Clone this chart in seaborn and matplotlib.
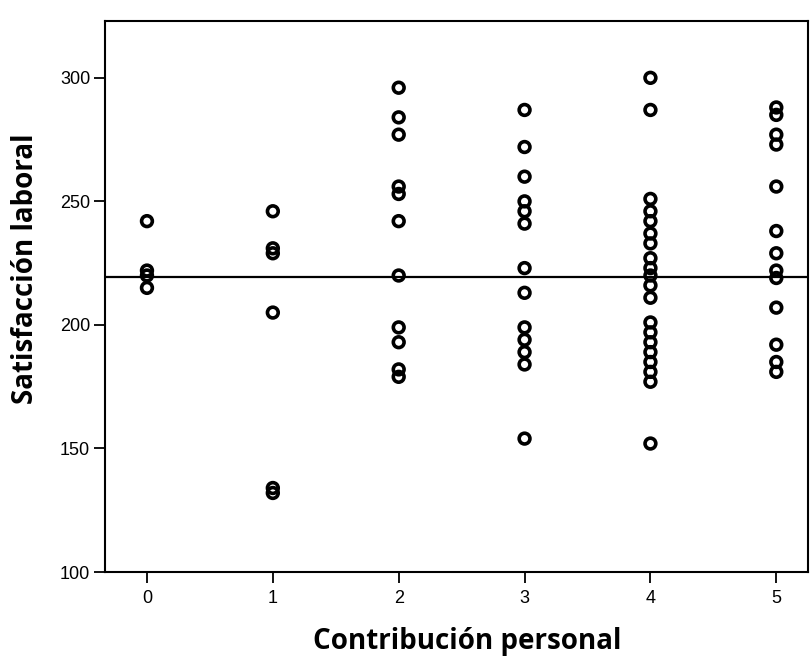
import numpy as np
import pandas as pd
import matplotlib
matplotlib.use("Agg")
import matplotlib.pyplot as plt
import seaborn as sns

# Data
contrib_0 = [242, 222, 220, 215]
contrib_1 = [246, 231, 229, 205, 134, 132]
contrib_2 = [296, 284, 277, 256, 253, 242, 220, 199, 193, 182, 179]
contrib_3 = [287, 272, 260, 250, 246, 241, 223, 213, 199, 194, 189, 184, 154]
contrib_4 = [300, 287, 251, 246, 242, 237, 233, 227, 223, 220, 216, 211,
             201, 197, 193, 189, 185, 181, 177, 152]
contrib_5 = [288, 285, 277, 273, 256, 238, 229, 222, 219, 207, 192, 185, 181]
groups = [contrib_0, contrib_1, contrib_2, contrib_3, contrib_4, contrib_5]
reference_line = 219.5

x_ticks = [0, 1, 2, 3, 4, 5]
y_ticks = [100, 150, 200, 250, 300]

rows = []
for k, vals in zip(x_ticks, groups):
    for v in vals:
        rows.append({"Contribución personal": k, "Satisfacción laboral": v})
df = pd.DataFrame(rows)

sns.set_style("white")
plt.rcParams["font.family"] = ["Liberation Sans Narrow", "Liberation Sans", "DejaVu Sans"]
plt.rcParams["text.color"] = "black"
plt.rcParams["axes.labelcolor"] = "black"

fig = plt.figure(figsize=(8.11, 6.56), dpi=100)
ax = fig.add_axes([0.13, 0.128, 0.866, 0.84])

sns.scatterplot(data=df, x="Contribución personal", y="Satisfacción laboral",
                ax=ax, marker="o", s=60, facecolor="none",
                edgecolor="black", linewidth=2.6)
ax.axhline(reference_line, color="black", linewidth=1.6)

ax.set_xlim(-0.33, 5.25)
ax.set_ylim(100, 323)
ax.set_xticks(x_ticks)
ax.set_yticks(y_ticks)
for sp in ax.spines.values():
    sp.set_visible(True)
    sp.set_color("black")
    sp.set_linewidth(1.5)
ax.tick_params(axis="both", direction="out", length=8, width=1.3,
               colors="black", labelsize=13, left=True, bottom=True, pad=3)
ax.tick_params(axis="x", pad=5)
label_font = dict(family=["Open Sans", "DejaVu Sans"], fontsize=20,
                  fontweight="bold", color="black")
ax.set_xlabel("Contribución personal", labelpad=12, **label_font)
ax.set_ylabel("Satisfacción laboral", labelpad=10, **label_font)
ax.yaxis.set_label_coords(-0.093, 0.55)
ax.xaxis.set_label_coords(0.515, -0.1)

fig.savefig("out.png", dpi=100, facecolor="white")
